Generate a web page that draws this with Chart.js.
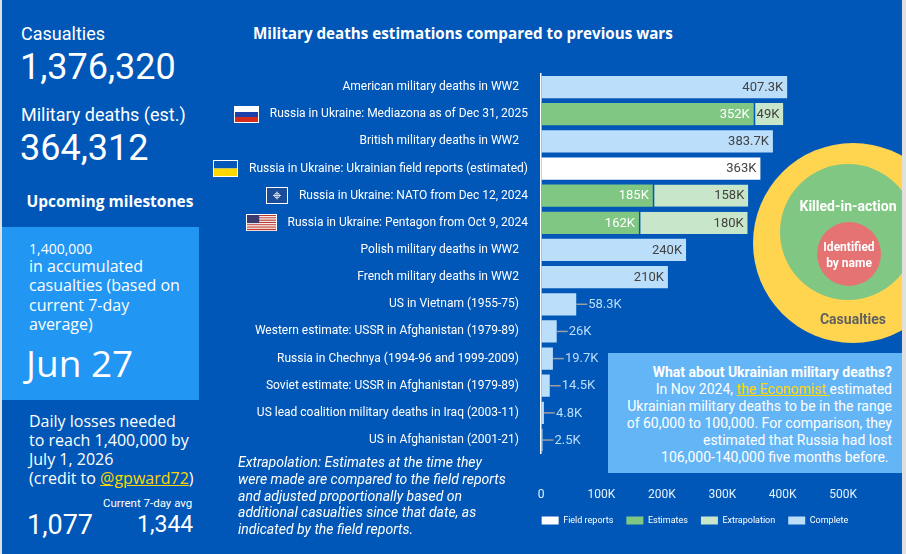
<!DOCTYPE html>
<html>
<head>
<meta charset="utf-8">
<script src="https://cdn.jsdelivr.net/npm/chart.js@4.4.1/dist/chart.umd.min.js"></script>
<style>
  body { margin: 0; width: 906px; height: 554px; overflow: hidden; background: #e0e0e0; font-family: Roboto, sans-serif; }
  #dash { position: absolute; left: 0; top: 0; width: 902px; height: 554px; background: #0057B7; overflow: hidden; color: #fff; }
  #edge { position: absolute; left: 0; top: 0; width: 2px; height: 554px; background: #e0e0e0; z-index: 9; }
  .t { position: absolute; white-space: nowrap; }
  .raleway { font-family: "Open Sans", sans-serif; }
  #milestone { position: absolute; left: 2px; top: 227px; width: 197px; height: 173px; background: #2196F3; }
  #ukrBox { position: absolute; left: 608px; top: 353px; width: 284px; height: 109px; padding: 11px 10px 0 0;
            background: #64B5F6; font-size: 14px; line-height: 17px; text-align: right; white-space: nowrap; }
  a { color: #FFD600; text-decoration: underline; }
  .circle { position: absolute; border-radius: 50%; }
  #chartBox { position: absolute; left: 210px; top: 60px; width: 692px; height: 494px; }
</style>
</head>
<body>
<div id="dash">
  <div class="t" style="left:21px; top:23px; font-size:18px; line-height:22px;">Casualties</div>
  <div class="t" style="left:20px; top:47px; font-size:36px; line-height:40px;">1,376,320</div>
  <div class="t" style="left:21px; top:104px; font-size:18px; line-height:22px;">Military deaths (est.)</div>
  <div class="t" style="left:20px; top:128px; font-size:36px; line-height:40px;">364,312</div>
  <div class="t raleway" style="left:10px; width:200px; text-align:center; top:191px; font-size:15.5px; line-height:20px; font-weight:700;">Upcoming milestones</div>

  <div id="milestone"></div>
  <div class="t raleway" style="left:29px; top:240px; font-size:14px; line-height:18px;">1,400,000</div>
  <div class="t raleway" style="left:29px; top:257px; font-size:16px; line-height:19.3px;">in accumulated<br>casualties (based on<br>current 7-day<br>average)</div>
  <div class="t raleway" style="left:26px; top:340px; font-size:37px; line-height:46px;">Jun 27</div>

  <div class="t raleway" style="left:29px; top:412px; font-size:16px; line-height:19px;">Daily losses needed<br>to reach 1,400,000 by<br>July 1, 2026<br>(credit to <a>@gpward72</a>)</div>
  <div class="t" style="left:103px; top:496px; font-size:11.5px; line-height:14px;">Current 7-day avg</div>
  <div class="t" style="left:27px; top:509px; font-size:27px; line-height:32px;">1,077</div>
  <div class="t" style="left:137px; top:511px; font-size:23px; line-height:28px;">1,344</div>

  <div class="t raleway" style="left:253px; top:23px; font-size:15.2px; line-height:20px; font-weight:700;">Military deaths estimations compared to previous wars</div>

  <div id="chartBox"><canvas id="myChart"></canvas></div>

  <div class="t" style="left:238px; top:454px; font-size:14px; line-height:16.8px; font-style:italic;">Extrapolation: Estimates at the time they<br>were made are compared to the field reports<br>and adjusted proportionally based on<br>additional casualties since that date, as<br>indicated by the field reports.</div>

  <div class="circle" style="left:753px; top:143px; width:200px; height:200px; background:#FFD54F;"></div>
  <div class="circle" style="left:780px; top:164px; width:136px; height:136px; background:#81C784;"></div>
  <div class="circle" style="left:817px; top:222px; width:64px; height:64px; background:#E57373;"></div>
  <div class="t" style="left:748px; width:200px; text-align:center; top:198px; font-size:14px; line-height:17px; font-weight:700;">Killed-in-action</div>
  <div class="t" style="left:799px; width:100px; text-align:center; top:239px; font-size:12px; line-height:16px; font-weight:700;">Identified<br>by name</div>
  <div class="t" style="left:753px; width:200px; text-align:center; top:311px; font-size:14px; line-height:17px; font-weight:700; color:#616161;">Casualties</div>

  <div id="ukrBox"><b>What about Ukrainian military deaths?</b><br>In Nov 2024, <a>the Economist&nbsp;</a>estimated<br>Ukrainian military deaths to be in the range<br>of 60,000 to 100,000. For comparison, they<br>estimated that Russia had lost<br>106,000-140,000 five months before.&nbsp;</div>
</div>
<div id="edge"></div>

<script>
const categories = [
  'American military deaths in WW2',
  'Russia in Ukraine: Mediazona as of Dec 31, 2025',
  'British military deaths in WW2',
  'Russia in Ukraine: Ukrainian field reports (estimated)',
  'Russia in Ukraine: NATO from Dec 12, 2024',
  'Russia in Ukraine: Pentagon from Oct 9, 2024',
  'Polish military deaths in WW2',
  'French military deaths in WW2',
  'US in Vietnam (1955-75)',
  'Western estimate: USSR in Afghanistan (1979-89)',
  'Russia in Chechnya (1994-96 and 1999-2009)',
  'Soviet estimate: USSR in Afghanistan (1979-89)',
  'US lead coalition military deaths in Iraq (2003-11)',
  'US in Afghanistan (2001-21)'
];
const flags = [null, 'ru', null, 'ua', 'nato', 'us', null, null, null, null, null, null, null, null];

const fieldReports  = [null, null, null, 363000, null, null, null, null, null, null, null, null, null, null];
const estimates     = [null, 352000, null, null, 185000, 162000, null, null, null, null, null, null, null, null];
const extrapolation = [null, 49000, null, null, 158000, 180000, null, null, null, null, null, null, null, null];
const complete      = [407300, null, 383700, null, null, null, 240000, 210000, 58300, 26000, 19700, 14500, 4800, 2500];

const xTicks = [0, 100000, 200000, 300000, 400000, 500000];

const BG = '#0057B7';
const insideColors = ['#424242', '#ffffff', '#424242', '#424242'];

function fmtK(v) {
  return v === 0 ? '0' : (v / 1000) + 'K';
}

function drawFlag(ctx, kind, right, cy) {
  const h = 17;
  const w = kind === 'us' ? 31 : (kind === 'nato' ? 22 : 25);
  const x = Math.round(right - w), y = Math.round(cy - h / 2);
  ctx.fillStyle = '#fff';
  ctx.fillRect(x, y, w, h);
  const ix = x + 1, iy = y + 1, iw = w - 2, ih = h - 2;
  if (kind === 'ru') {
    ctx.fillStyle = '#fff'; ctx.fillRect(ix, iy, iw, ih / 3);
    ctx.fillStyle = '#1C3FAA'; ctx.fillRect(ix, iy + ih / 3, iw, ih / 3);
    ctx.fillStyle = '#D52B1E'; ctx.fillRect(ix, iy + 2 * ih / 3, iw, ih / 3);
  } else if (kind === 'ua') {
    ctx.fillStyle = '#0057B7'; ctx.fillRect(ix, iy, iw, ih / 2);
    ctx.fillStyle = '#FFD700'; ctx.fillRect(ix, iy + ih / 2, iw, ih / 2);
  } else if (kind === 'nato') {
    ctx.fillStyle = '#1B4C9A'; ctx.fillRect(ix, iy, iw, ih);
    const cx = ix + iw / 2, cyy = iy + ih / 2;
    ctx.strokeStyle = '#fff'; ctx.lineWidth = 0.8;
    ctx.beginPath(); ctx.arc(cx, cyy, 2.5, 0, Math.PI * 2); ctx.stroke();
    ctx.beginPath();
    ctx.moveTo(cx - 4, cyy); ctx.lineTo(cx + 4, cyy);
    ctx.moveTo(cx, cyy - 4); ctx.lineTo(cx, cyy + 4);
    ctx.stroke();
  } else if (kind === 'us') {
    const sh = ih / 13;
    for (let s = 0; s < 13; s++) {
      ctx.fillStyle = s % 2 === 0 ? '#C0392B' : '#F4F4F4';
      ctx.fillRect(ix, iy + s * sh, iw, sh + 0.2);
    }
    ctx.fillStyle = '#3C3B6E';
    ctx.fillRect(ix, iy, iw * 0.42, sh * 7);
  }
}

const barLabels = {
  id: 'barLabels',
  afterDatasetsDraw(chart) {
    const { ctx, chartArea } = chart;
    const yScale = chart.scales.y;
    ctx.save();
    ctx.textBaseline = 'middle';

    // category names + flags
    ctx.font = '12px Roboto';
    categories.forEach((name, i) => {
      const y = yScale.getPixelForValue(i);
      const right = chartArea.left - (flags[i] ? 13 : 22);
      ctx.fillStyle = '#ffffff';
      ctx.textAlign = 'right';
      ctx.fillText(name, right, y);
      if (flags[i]) {
        const w = ctx.measureText(name).width;
        drawFlag(ctx, flags[i], right - w - 11, y);
      }
    });

    // value labels
    ctx.font = '13px Roboto';
    chart.data.datasets.forEach((ds, di) => {
      const meta = chart.getDatasetMeta(di);
      meta.data.forEach((bar, i) => {
        const v = ds.data[i];
        if (!v) return;
        const txt = fmtK(v);
        const tw = ctx.measureText(txt).width;
        const left = Math.min(bar.x, bar.base);
        const right = Math.max(bar.x, bar.base);
        if (right - left > tw + 5) {
          ctx.textAlign = 'right';
          ctx.fillStyle = insideColors[di];
          ctx.fillText(txt, right - 4, bar.y + 0.5);
        } else {
          ctx.strokeStyle = '#9E9E9E';
          ctx.lineWidth = 1.5;
          ctx.beginPath();
          ctx.moveTo(right, bar.y);
          ctx.lineTo(right + 11, bar.y);
          ctx.stroke();
          ctx.textAlign = 'left';
          ctx.fillStyle = '#BBDEFB';
          ctx.fillText(txt, right + 12, bar.y + 0.5);
        }
      });
    });
    ctx.restore();
  }
};

const ctx = document.getElementById('myChart');

new Chart(ctx, {
  type: 'bar',
  data: {
    labels: categories,
    datasets: [
      { label: 'Field reports', data: fieldReports, backgroundColor: '#ffffff' },
      { label: 'Estimates', data: estimates, backgroundColor: '#81C784' },
      { label: 'Extrapolation', data: extrapolation, backgroundColor: '#C8E6C9',
        borderColor: BG, borderWidth: { left: 1.5, right: 0, top: 0, bottom: 0 }, borderSkipped: false },
      { label: 'Complete', data: complete, backgroundColor: '#BBDEFB' }
    ]
  },
  options: {
    indexAxis: 'y',
    responsive: true,
    maintainAspectRatio: false,
    animation: false,
    barPercentage: 0.82,
    categoryPercentage: 1.0,
    layout: { padding: { left: 280, right: 2, top: 13.5, bottom: 19 } },
    scales: {
      x: {
        stacked: true,
        min: 0,
        max: 594000,
        grid: { display: true, drawOnChartArea: false, drawTicks: true, tickLength: 33, color: 'rgba(0,0,0,0)' },
        border: { display: false },
        afterBuildTicks: (scale) => { scale.ticks = xTicks.map(v => ({ value: v })); },
        ticks: {
          padding: 1,
          color: '#E3F2FD',
          font: { family: 'Roboto', size: 12 },
          callback: (v) => fmtK(v)
        }
      },
      y: {
        stacked: true,
        grid: { display: false, drawTicks: false },
        border: { display: true, color: '#ffffff', width: 1.5 },
        ticks: { display: false },
        afterFit: (scale) => { scale.width = 51; }
      }
    },
    plugins: {
      tooltip: { enabled: false },
      legend: {
        position: 'bottom',
        labels: {
          color: '#ffffff',
          font: { family: 'Roboto', size: 9 },
          boxWidth: 17,
          boxHeight: 8,
          padding: 13,
          generateLabels: (chart) => {
            const items = Chart.defaults.plugins.legend.labels.generateLabels(chart);
            items.forEach(it => { it.lineWidth = 0; it.strokeStyle = 'rgba(0,0,0,0)'; });
            return items;
          }
        }
      }
    }
  },
  plugins: [barLabels]
});
</script>
</body>
</html>
